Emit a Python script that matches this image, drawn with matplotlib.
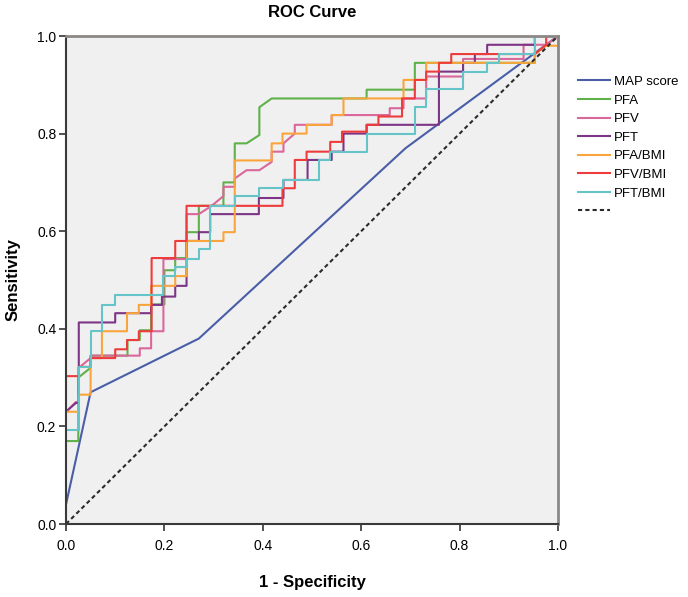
import matplotlib.pyplot as plt
import numpy as np

plt.rcParams['font.family'] = ['Liberation Sans', 'DejaVu Sans']

# ROC curve vertices (1 - specificity, sensitivity)
map_x = [0, 0.05, 0.27, 0.55, 0.69, 1.0]
map_y = [0.04, 0.27, 0.38, 0.64, 0.77, 1.0]

pfa_x = [0, 0.025, 0.025, 0.05, 0.05, 0.125, 0.125, 0.15, 0.15, 0.173, 0.173, 0.2, 0.2, 0.222, 0.222,
         0.245, 0.245, 0.27, 0.27, 0.32, 0.32, 0.343, 0.343, 0.367, 0.393, 0.393, 0.418, 0.611, 0.611,
         0.709, 0.709, 0.953, 0.953, 1.0]
pfa_y = [0.17, 0.17, 0.30, 0.32, 0.345, 0.345, 0.377, 0.377, 0.397, 0.397, 0.45, 0.45, 0.52, 0.52, 0.545,
         0.545, 0.598, 0.598, 0.652, 0.652, 0.70, 0.70, 0.78, 0.78, 0.797, 0.854, 0.872, 0.872, 0.89,
         0.89, 0.945, 0.945, 1.0, 1.0]

pfv_x = [0, 0.02, 0.026, 0.026, 0.05, 0.05, 0.15, 0.15, 0.173, 0.173, 0.198, 0.198, 0.245, 0.245, 0.27,
         0.296, 0.32, 0.32, 0.343, 0.343, 0.367, 0.393, 0.418, 0.418, 0.442, 0.442, 0.465, 0.465, 0.54,
         0.54, 0.658, 0.658, 0.686, 0.686, 0.732, 0.732, 0.807, 0.807, 0.93, 0.93, 0.976, 1.0]
pfv_y = [0.23, 0.25, 0.25, 0.32, 0.34, 0.345, 0.345, 0.36, 0.36, 0.395, 0.395, 0.543, 0.543, 0.635, 0.635,
         0.652, 0.672, 0.691, 0.691, 0.708, 0.725, 0.725, 0.742, 0.763, 0.763, 0.78, 0.80, 0.818, 0.818,
         0.838, 0.838, 0.852, 0.852, 0.872, 0.872, 0.917, 0.917, 0.953, 0.953, 0.982, 0.982, 1.0]

pft_x = [0, 0.02, 0.026, 0.026, 0.1, 0.1, 0.173, 0.173, 0.195, 0.195, 0.222, 0.222, 0.245, 0.245, 0.27,
         0.27, 0.293, 0.293, 0.392, 0.392, 0.442, 0.442, 0.491, 0.491, 0.54, 0.54, 0.564, 0.564, 0.611,
         0.611, 0.758, 0.758, 0.807, 0.807, 0.831, 0.831, 0.856, 0.856, 0.953, 0.953, 1.0]
pft_y = [0.23, 0.248, 0.248, 0.413, 0.413, 0.432, 0.432, 0.449, 0.449, 0.466, 0.466, 0.488, 0.488, 0.58, 0.58,
         0.598, 0.598, 0.635, 0.635, 0.668, 0.668, 0.705, 0.705, 0.746, 0.746, 0.763, 0.763, 0.80, 0.80,
         0.818, 0.818, 0.927, 0.927, 0.945, 0.945, 0.963, 0.963, 0.982, 0.982, 1.0, 1.0]

pfab_x = [0, 0.026, 0.026, 0.05, 0.05, 0.073, 0.073, 0.124, 0.124, 0.148, 0.148, 0.173, 0.173, 0.222, 0.222,
          0.245, 0.245, 0.32, 0.32, 0.343, 0.343, 0.418, 0.418, 0.44, 0.44, 0.489, 0.489, 0.54, 0.54, 0.564,
          0.564, 0.686, 0.686, 0.732, 0.732, 0.953, 0.953, 0.976, 1.0, 1.0]
pfab_y = [0.23, 0.23, 0.265, 0.265, 0.34, 0.34, 0.395, 0.395, 0.432, 0.432, 0.449, 0.449, 0.488, 0.488, 0.508,
          0.508, 0.58, 0.58, 0.598, 0.598, 0.745, 0.745, 0.78, 0.78, 0.80, 0.80, 0.818, 0.818, 0.838, 0.838,
          0.872, 0.872, 0.91, 0.91, 0.945, 0.945, 0.963, 0.98, 0.98, 1.0]

pfvb_x = [0, 0.026, 0.026, 0.05, 0.05, 0.1, 0.1, 0.124, 0.124, 0.148, 0.148, 0.174, 0.174, 0.222, 0.222,
          0.245, 0.245, 0.44, 0.44, 0.465, 0.465, 0.489, 0.489, 0.537, 0.537, 0.561, 0.561, 0.611, 0.611,
          0.635, 0.635, 0.683, 0.683, 0.709, 0.709, 0.732, 0.732, 0.758, 0.758, 0.783, 0.783, 0.953, 0.976,
          0.976, 1.0]
pfvb_y = [0.303, 0.303, 0.322, 0.322, 0.34, 0.34, 0.358, 0.358, 0.377, 0.377, 0.395, 0.395, 0.545, 0.545, 0.58,
          0.58, 0.652, 0.652, 0.688, 0.688, 0.746, 0.746, 0.763, 0.763, 0.783, 0.783, 0.804, 0.804, 0.818,
          0.818, 0.835, 0.835, 0.872, 0.872, 0.91, 0.91, 0.927, 0.927, 0.945, 0.945, 0.963, 0.963, 0.982,
          1.0, 1.0]

pftb_x = [0, 0.026, 0.026, 0.05, 0.05, 0.073, 0.073, 0.1, 0.1, 0.198, 0.198, 0.222, 0.222, 0.245, 0.245,
          0.27, 0.27, 0.293, 0.293, 0.343, 0.343, 0.392, 0.392, 0.441, 0.441, 0.514, 0.514, 0.537, 0.537,
          0.611, 0.611, 0.709, 0.709, 0.732, 0.732, 0.807, 0.807, 0.856, 0.856, 0.88, 0.88, 0.953, 0.953, 1.0]
pftb_y = [0.193, 0.193, 0.322, 0.322, 0.395, 0.395, 0.449, 0.449, 0.47, 0.47, 0.508, 0.508, 0.526, 0.526, 0.543,
          0.543, 0.563, 0.563, 0.652, 0.652, 0.672, 0.672, 0.689, 0.689, 0.705, 0.705, 0.746, 0.746, 0.763,
          0.763, 0.80, 0.80, 0.855, 0.855, 0.891, 0.891, 0.927, 0.927, 0.945, 0.945, 0.963, 0.963, 1.0, 1.0]

labels = ['MAP score', 'PFA', 'PFV', 'PFT', 'PFA/BMI', 'PFV/BMI', 'PFT/BMI']
colors = ['#4a5ea8', '#5fb14a', '#d9679a', '#7d3585', '#f9a53b', '#ee3c3c', '#64c4c8']
xs = [map_x, pfa_x, pfv_x, pft_x, pfab_x, pfvb_x, pftb_x]
ys = [map_y, pfa_y, pfv_y, pft_y, pfab_y, pfvb_y, pftb_y]

fig = plt.figure(figsize=(6.88, 5.97), dpi=100)
ax = fig.add_axes([66 / 688, 1 - 524 / 597, 492 / 688, 488 / 597])
ax.set_facecolor('#f1f0f1')

for x, y, c, lab in zip(xs, ys, colors, labels):
    ax.plot(x, y, color=c, lw=1.5, label=lab)
ax.plot([0, 1], [0, 1], color='#2b2b2b', lw=1.5, ls=(0, (2, 1.5)), label=' ')

ax.set_xlim(0, 1)
ax.set_ylim(0, 1)
ticks = [0.0, 0.2, 0.4, 0.6, 0.8, 1.0]
ax.set_xticks(ticks)
ax.set_yticks(ticks)
ax.set_xticklabels(['%.1f' % t for t in ticks], fontsize=10)
ax.set_yticklabels(['%.1f' % t for t in ticks], fontsize=10)
ax.tick_params(direction='out', length=5, width=1.2, color='#333333', pad=2)
ax.tick_params(axis='x', pad=6)

for side in ['left', 'bottom']:
    ax.spines[side].set_color('#3a3a3a')
    ax.spines[side].set_linewidth(1.5)
for side in ['top', 'right']:
    ax.spines[side].set_color('#8c8886')
    ax.spines[side].set_linewidth(2)

ax.set_title('ROC Curve', fontsize=12, fontweight='bold', pad=14)
ax.set_xlabel('1 - Specificity', fontsize=12, fontweight='bold', labelpad=16)
ax.set_ylabel('Sensitivity', fontsize=12, fontweight='bold', labelpad=12)

fig.legend(loc='upper left', bbox_to_anchor=(566 / 688, 1 - 64 / 597), frameon=False,
           fontsize=9.5, handlelength=2.4, labelspacing=0.48, handletextpad=0.3)

plt.savefig('out.png', dpi=100)
